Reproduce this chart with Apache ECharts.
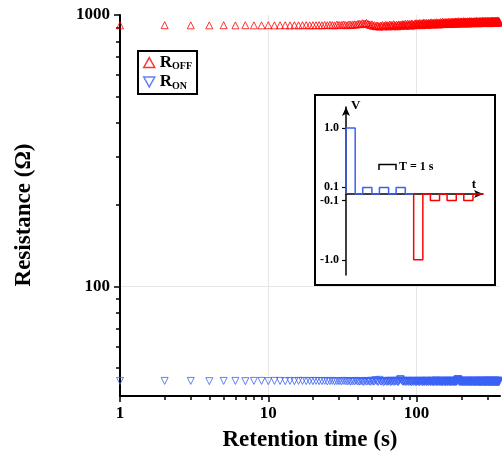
<!DOCTYPE html>
<html lang="en">
<head>
    <meta charset="UTF-8">
    <title>Retention</title>
    <script src="https://cdn.jsdelivr.net/npm/echarts@6/dist/echarts.min.js"></script>
    <style>
        body { margin: 0; background: #fff; }
    </style>
</head>
<body>
    <div id="main" style="width: 502px; height: 459px;"></div>
    <script>
        // resistance read every second, t = 1 s ... 360 s
        var roff = [
            916,917,916,916,917,916,917,916,916,917,916,917,917,916,917,916,917,918,916,917,
            917,918,916,919,917,920,918,916,921,919,918,922,920,917,923,921,919,924,922,926,
            929,925,933,928,931,935,927,922,918,924,912,917,909,915,911,906,914,910,918,908,
            913,920,911,917,907,922,914,919,910,925,916,912,921,908,918,923,913,920,915,926,
            917,924,912,928,920,915,930,922,918,927,913,925,931,919,923,916,929,921,933,918,
            926,932,920,928,935,922,930,917,934,925,929,938,921,927,933,924,936,919,931,928,
            937,923,930,934,926,940,929,921,935,932,927,939,924,933,930,941,926,936,928,934,
            922,938,931,927,942,933,925,937,930,944,928,935,939,926,941,932,929,943,934,927,
            940,931,936,945,929,938,933,942,926,937,944,931,935,940,928,946,934,939,930,943,
            936,941,929,947,933,938,944,931,940,935,949,932,942,937,930,945,939,934,948,936,
            931,943,938,946,933,941,936,950,934,940,945,932,939,947,937,942,930,944,939,935,
            948,936,943,931,945,940,937,951,933,941,946,938,935,949,942,936,944,932,947,940,
            938,945,934,950,941,937,946,933,943,948,936,940,952,935,944,939,947,934,942,949,
            937,943,946,932,950,940,938,947,935,944,951,939,936,945,942,948,934,941,953,938,
            944,936,949,942,938,951,935,946,940,943,937,952,941,945,934,948,943,939,950,936,
            945,941,953,937,944,948,935,942,950,939,946,933,947,943,952,938,941,949,936,944,
            951,940,937,947,943,954,936,945,941,949,938,944,952,935,946,942,950,939,943,948,
            937,953,941,945,938,950,944,936,948,942,955,939,946,941,951,937,945,949,940,947
        ];
        var ron = [
            44.9,44.9,44.9,44.8,44.9,44.9,44.8,44.9,44.9,44.8,44.9,44.9,44.8,44.9,44.8,44.9,44.9,44.8,44.9,44.8,
            44.9,44.8,44.8,44.9,44.7,44.8,44.9,44.7,44.8,44.8,44.7,44.9,44.8,44.7,44.8,44.6,44.8,44.7,44.9,44.7,
            44.6,44.8,44.7,44.5,44.9,44.6,44.8,44.7,44.5,45.0,44.6,44.7,45.2,44.8,44.5,45.3,44.7,44.6,44.9,44.4,
            44.7,44.9,44.5,44.8,44.6,45.0,44.4,44.7,44.9,44.5,44.8,44.6,45.0,44.7,44.4,44.9,45.4,45.6,45.1,44.8,
            44.5,44.9,44.6,44.8,44.4,45.0,44.7,44.5,44.9,44.6,44.8,44.3,44.9,44.7,44.5,45.0,44.6,44.8,44.4,44.9,
            44.6,44.8,44.5,44.9,44.4,44.7,45.0,44.6,44.8,44.3,44.9,44.7,44.5,44.8,44.6,45.0,44.4,44.7,44.9,44.5,
            44.8,44.6,44.9,44.4,44.7,45.0,44.5,44.8,44.6,44.3,44.9,44.7,44.5,44.8,45.1,44.6,44.4,44.9,44.7,44.5,
            44.8,44.6,45.0,44.4,44.7,44.9,44.5,44.8,44.3,44.7,45.0,44.6,44.8,44.5,44.9,44.4,44.7,44.6,45.0,44.5,
            44.8,44.4,44.9,44.6,44.7,45.0,44.5,44.8,44.3,44.9,44.6,44.7,44.5,45.0,44.8,44.4,44.6,44.9,44.7,44.5,
            44.8,44.6,44.9,44.4,44.7,45.1,44.6,45.3,45.6,45.4,45.2,45.5,44.9,44.6,44.8,44.4,44.7,45.0,44.5,44.8,
            44.6,44.9,44.4,44.7,44.5,45.0,44.6,44.8,44.3,44.9,44.7,44.5,44.8,44.6,45.0,44.4,44.7,44.9,44.5,44.8,
            44.4,44.7,44.9,44.6,45.0,44.5,44.8,44.3,44.7,44.9,44.6,44.5,44.8,45.0,44.4,44.7,44.6,44.9,44.5,44.8,
            44.6,44.4,44.9,44.7,45.0,44.5,44.8,44.6,44.3,44.9,44.7,44.5,44.8,44.6,45.0,44.4,44.7,44.9,44.5,44.8,
            44.5,44.9,44.6,44.8,44.4,45.0,44.7,44.5,44.9,44.3,44.7,44.8,44.6,45.0,44.5,44.8,44.4,44.7,44.9,44.6,
            44.8,44.5,44.9,44.6,44.3,44.8,45.0,44.6,44.7,44.4,44.9,44.5,44.8,44.6,45.0,44.4,44.7,44.9,44.5,44.8,
            44.6,44.9,44.4,44.7,45.0,44.5,44.8,44.6,44.3,44.9,44.7,44.5,44.8,44.6,45.0,44.4,44.7,44.9,44.5,44.8,
            44.5,44.8,44.6,44.9,44.4,44.7,45.0,44.6,44.8,44.3,44.9,44.7,44.5,44.8,44.6,45.0,44.5,44.7,44.9,44.4,
            44.7,44.5,44.9,44.6,44.8,44.4,45.0,44.7,44.5,44.9,44.6,44.8,44.3,44.7,44.9,44.5,44.8,44.6,45.0,44.5
        ];

        var xMajor = [1, 10, 100];
        var xMinor = [2, 3, 4, 5, 6, 7, 8, 9, 20, 30, 40, 50, 60, 70, 80, 90, 200, 300];
        var yMajor = [100, 1000];
        var yMinor = [50, 60, 70, 80, 90, 200, 300, 400, 500, 600, 700, 800, 900];

        // inset: pulse train (t in units of T, amplitude in V)
        var setStarts = [0, 1, 2, 3];
        var setAmps = [1.0, 0.1, 0.1, 0.1];
        var resetStarts = [4.05, 5.05, 6.05, 7.05];
        var resetAmps = [-1.0, -0.1, -0.1, -0.1];
        var pulseWidth = 0.55;
        var insetTicks = [1.0, 0.1, -0.1, -1.0];

        var serif = '"Liberation Serif", "Times New Roman", serif';
        var red = '#ff0000', blue = '#3a62f5';

        function pulseTrain(starts, amps, t0, t1) {
            var pts = [[t0, 0]];
            starts.forEach(function (s, i) {
                pts.push([s, 0], [s, amps[i]], [s + pulseWidth, amps[i]], [s + pulseWidth, 0]);
            });
            pts.push([t1, 0]);
            return pts;
        }
        function intLabel(v) { return String(Math.round(v)); }

        var gridRect = { left: 120, top: 15, width: 380, height: 381, outerBoundsMode: 'none' };

        var chart = echarts.init(document.getElementById('main'));
        var option = {
            animation: false,
            grid: [
                gridRect,
                Object.assign({}, gridRect),
                { left: 346, top: 107, width: 137, height: 168, outerBoundsMode: 'none' }
            ],
            legend: {
                left: 138, top: 51, orient: 'vertical',
                padding: [3, 5, 3, 5], itemGap: 2, itemWidth: 11, itemHeight: 11,
                borderColor: '#000', borderWidth: 2, borderRadius: 0, backgroundColor: '#fff',
                data: [
                    { name: 'ROFF', icon: 'path://M5,0L10,9L0,9Z' },
                    { name: 'RON', icon: 'path://M0,0L10,0L5,9Z' }
                ],
                itemStyle: { borderWidth: 1.5 },
                formatter: function (name) {
                    return name === 'ROFF' ? '{r|R}{s|OFF}' : '{r|R}{s|ON}';
                },
                textStyle: {
                    rich: {
                        r: { fontFamily: serif, fontWeight: 'bold', fontSize: 17, lineHeight: 18, color: '#000' },
                        s: { fontFamily: serif, fontWeight: 'bold', fontSize: 10, lineHeight: 12, color: '#000', verticalAlign: 'bottom' }
                    }
                }
            },
            xAxis: [{
                type: 'log', gridIndex: 0, min: 1, max: 365,
                axisLine: { lineStyle: { color: '#000', width: 2 } },
                axisTick: { customValues: xMajor, length: 6, lineStyle: { color: '#000', width: 1.5 } },
                axisLabel: { customValues: xMajor, formatter: intLabel, color: '#000', fontFamily: serif, fontWeight: 'bold', fontSize: 17, margin: 9 },
                splitLine: { show: true, showMinLine: false, showMaxLine: true, lineStyle: { color: '#e6e6e6', width: 1 } },
                name: 'Retention time (s)', nameLocation: 'middle', nameGap: 33,
                nameTextStyle: { fontFamily: serif, fontWeight: 'bold', fontSize: 23, color: '#000' }
            }, {
                type: 'log', gridIndex: 1, min: 1, max: 365,
                axisLine: { show: false },
                axisTick: { customValues: xMinor, length: 4, lineStyle: { color: '#000', width: 1.5 } },
                axisLabel: { show: false },
                splitLine: { show: false }
            }, {
                type: 'value', gridIndex: 2, min: 0, max: 8.2, z: 10,
                axisLine: { symbol: ['none', 'arrow'], symbolSize: [6, 9], lineStyle: { color: '#000', width: 1.5 } },
                axisTick: { show: false },
                axisLabel: { show: false },
                splitLine: { show: false },
                name: 't', nameLocation: 'end', nameGap: -9,
                nameTextStyle: { fontFamily: serif, fontWeight: 'bold', fontSize: 13, color: '#000', align: 'center', verticalAlign: 'bottom', padding: [0, 0, 3, 0] }
            }],
            yAxis: [{
                type: 'log', gridIndex: 0, min: 39.5, max: 1000,
                axisLine: { lineStyle: { color: '#000', width: 2 } },
                axisTick: { customValues: yMajor, length: 6, lineStyle: { color: '#000', width: 1.5 } },
                axisLabel: { customValues: yMajor, formatter: intLabel, color: '#000', fontFamily: serif, fontWeight: 'bold', fontSize: 17, margin: 10 },
                splitLine: { show: true, showMinLine: true, showMaxLine: false, lineStyle: { color: '#e6e6e6', width: 1 } }
            }, {
                type: 'log', gridIndex: 1, min: 39.5, max: 1000,
                axisLine: { show: false },
                axisTick: { customValues: yMinor, length: 4, lineStyle: { color: '#000', width: 1.5 } },
                axisLabel: { show: false },
                splitLine: { show: false }
            }, {
                type: 'value', gridIndex: 2, min: -1.23, max: 1.32, z: 10,
                axisLine: { symbol: ['none', 'arrow'], symbolSize: [6, 9], lineStyle: { color: '#000', width: 1.5 } },
                axisTick: { customValues: insetTicks, length: 4, lineStyle: { color: '#000', width: 1.2 } },
                axisLabel: {
                    customValues: insetTicks, color: '#000', fontFamily: serif, fontWeight: 'bold', fontSize: 12, margin: 7,
                    formatter: function (v) { return v.toFixed(1); }
                },
                splitLine: { show: false },
                name: 'V', nameLocation: 'end', nameGap: 1,
                nameTextStyle: { fontFamily: serif, fontWeight: 'bold', fontSize: 13, color: '#000', align: 'left', verticalAlign: 'middle', padding: [0, 0, 0, 5] }
            }],
            graphic: [
                { type: 'rect', z: 5, shape: { x: 315, y: 95, width: 180, height: 190 }, style: { fill: '#fff', stroke: '#000', lineWidth: 2 } },
                { type: 'polyline', z: 12, shape: { points: [[379, 170], [379, 164.5], [396, 164.5], [396, 170]] }, style: { stroke: '#000', lineWidth: 1.5, fill: null } },
                { type: 'text', z: 12, x: 399, y: 167, style: { text: 'T = 1 s', font: 'bold 12px ' + serif, fill: '#000', textVerticalAlign: 'middle', verticalAlign: 'middle' } },
                { type: 'text', z: 12, x: 24, y: 215, rotation: Math.PI / 2,
                  style: { text: 'Resistance (\u03A9)', font: 'bold 23px ' + serif, fill: '#000', textAlign: 'center', align: 'center', textVerticalAlign: 'middle', verticalAlign: 'middle' } }
            ],
            series: [{
                name: 'ROFF', type: 'scatter', xAxisIndex: 0, yAxisIndex: 0,
                symbol: 'triangle', symbolSize: 7,
                itemStyle: { color: 'rgba(0,0,0,0)', borderColor: red, borderWidth: 1 },
                data: roff.map(function (v, i) { return [i + 1, v]; })
            }, {
                name: 'RON', type: 'scatter', xAxisIndex: 0, yAxisIndex: 0,
                symbol: 'triangle', symbolRotate: 180, symbolSize: 7,
                itemStyle: { color: 'rgba(0,0,0,0)', borderColor: blue, borderWidth: 1 },
                data: ron.map(function (v, i) { return [i + 1, v]; })
            }, {
                name: 'set', type: 'line', xAxisIndex: 2, yAxisIndex: 2, z: 11,
                symbol: 'none', lineStyle: { color: blue, width: 1.5 },
                data: pulseTrain(setStarts, setAmps, 0, resetStarts[0])
            }, {
                name: 'reset', type: 'line', xAxisIndex: 2, yAxisIndex: 2, z: 11,
                symbol: 'none', lineStyle: { color: red, width: 1.5 },
                data: pulseTrain(resetStarts, resetAmps, resetStarts[0], 8.2)
            }]
        };
        chart.setOption(option);
    </script>
</body>
</html>
